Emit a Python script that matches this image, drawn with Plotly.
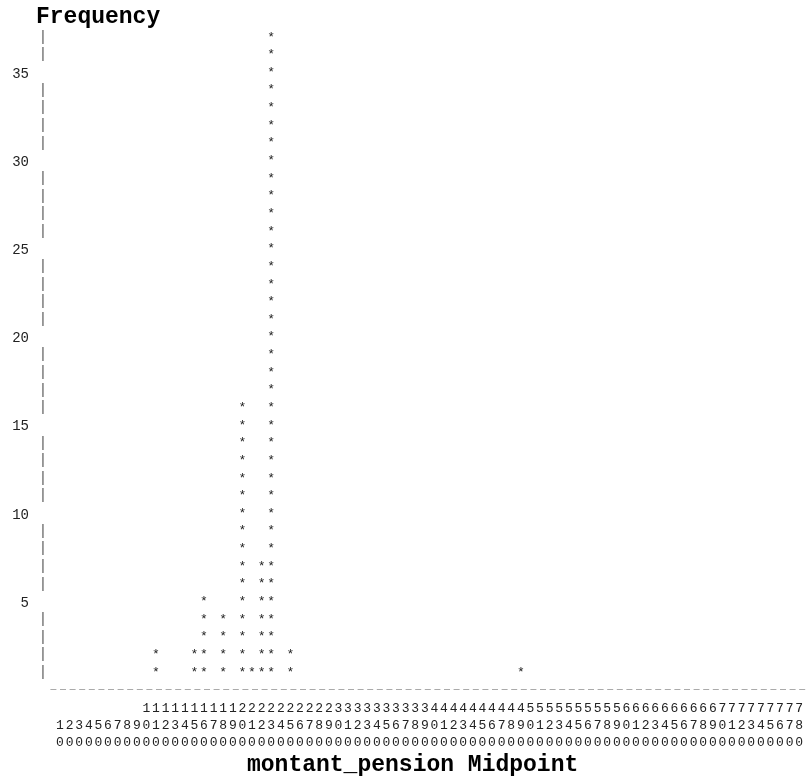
import plotly.graph_objects as go

# ---- data (SAS-style line-printer histogram) ----
midpoints = [110, 150, 160, 180, 200, 210, 220, 230, 250, 490]
frequency = [2, 2, 5, 4, 16, 1, 7, 37, 2, 1]
axis_midpoints = list(range(10, 790, 10))          # tick positions 10 .. 780
freq_ticks = [5, 10, 15, 20, 25, 30, 35]
max_row = 37

MONO = "Courier New, Liberation Mono, monospace"
INK = "#222222"
ROW_PX = 17.64
PLOT_H = 690

# stars: one '*' per unit of frequency
star_x, star_y = [], []
for m, f in zip(midpoints, frequency):
    for k in range(1, f + 1):
        star_x.append(m)
        star_y.append(k)

# '|' markers on the rows that carry no numeric tick
bar_rows = [r for r in range(1, max_row + 1) if r not in freq_ticks]

# vertical 3-row tick labels for the midpoints
def vlabel(v):
    s = str(v).rjust(3)
    return "<br>".join(ch if ch != " " else "\u00a0" for ch in s)

x_ticktext = [vlabel(v) for v in axis_midpoints]

fig = go.Figure()
fig.add_trace(go.Scatter(
    x=star_x, y=star_y, mode="text", text=["*"] * len(star_x),
    textposition="middle center",
    textfont=dict(family=MONO, size=13, color=INK),
    hoverinfo="skip", showlegend=False, cliponaxis=False))
fig.add_trace(go.Scatter(
    x=[-7.7] * len(bar_rows), y=bar_rows, mode="text", text=["|"] * len(bar_rows),
    textposition="middle center",
    textfont=dict(family=MONO, size=14, color="#555555"),
    hoverinfo="skip", showlegend=False, cliponaxis=False))

fig.add_shape(type="line", xref="x", yref="y", x0=0, x1=788, y0=0, y1=0,
              line=dict(color="#555555", width=1, dash="6px,3.6px"))

fig.update_layout(
    width=807, height=781,
    margin=dict(l=36, r=0, t=0, b=781 - PLOT_H, autoexpand=False),
    paper_bgcolor="white", plot_bgcolor="white",
    hovermode=False,
    xaxis=dict(range=[-15, 788.1], showgrid=False, zeroline=False, showline=False,
               automargin=False,
               tickmode="array", tickvals=axis_midpoints, ticktext=x_ticktext,
               ticks="", tickangle=0, ticklabelstandoff=8,
               tickfont=dict(family=MONO, size=13, color=INK)),
    yaxis=dict(range=[0, PLOT_H / ROW_PX], showgrid=False, zeroline=False, showline=False,
               automargin=False,
               tickmode="array", tickvals=freq_ticks, ticktext=[str(v) for v in freq_ticks],
               ticks="", ticklabelstandoff=6,
               tickfont=dict(family=MONO, size=14, color=INK)),
    annotations=[
        dict(text="<b>Frequency</b>", xref="paper", yref="paper", x=0, y=1,
             xanchor="left", yanchor="middle", yshift=-17, xshift=-2, showarrow=False,
             font=dict(family=MONO, size=23, color="black")),
        dict(text="<b>montant_pension Midpoint</b>", xref="paper", yref="paper",
             x=(412.5 - 36) / 771, y=0, xanchor="center", yanchor="middle",
             yshift=-(765 - PLOT_H), showarrow=False,
             font=dict(family=MONO, size=23, color="black")),
    ],
)

fig.write_html("out.html", config={"displayModeBar": False},
               post_script="document.body.style.margin='0';"
                           "document.body.style.overflow='hidden';"
                           "document.querySelectorAll('.main-svg').forEach(function(s){"
                           "s.style.willChange='transform';});")
